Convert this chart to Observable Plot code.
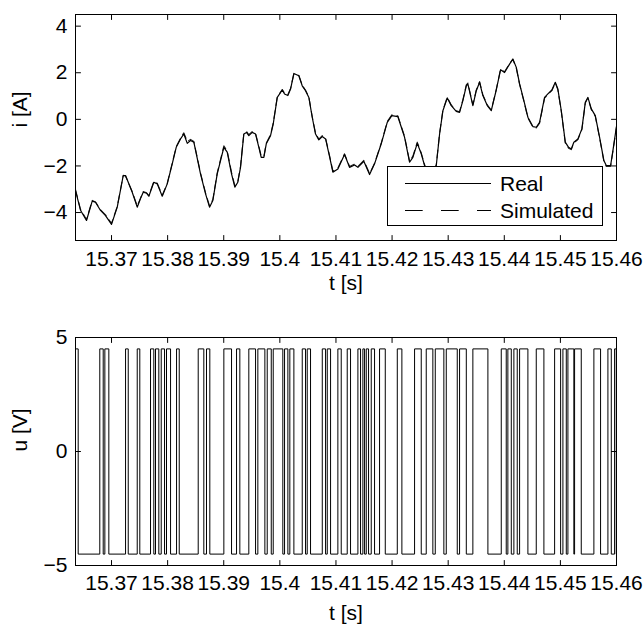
<!DOCTYPE html>
<html><head><meta charset="utf-8">
<script src="https://cdn.jsdelivr.net/npm/d3@7"></script>
<script src="https://cdn.jsdelivr.net/npm/@observablehq/plot@0.6"></script>
<style>
body{margin:0;background:#fff;}
#wrap{position:relative;width:644px;height:624px;font-family:"Liberation Sans",Arial,Helvetica,sans-serif;}
#wrap svg{display:block;}
#legend{position:absolute;left:387px;top:166px;width:214px;height:58px;border:1px solid #000;background:#fff;}
</style></head><body>
<div id="wrap"><div id="top"></div><div id="bottom"></div>
<div id="legend"><svg width="214" height="58" style="font-family:'Liberation Sans',Arial,sans-serif;font-size:21px">
<line x1="17" x2="103" y1="16.5" y2="16.5" stroke="#000" stroke-width="1"/>
<text x="112" y="24">Real</text>
<line x1="17" x2="103" y1="43.5" y2="43.5" stroke="#000" stroke-width="1" stroke-dasharray="17.7,18.3"/>
<text x="112" y="51">Simulated</text>
</svg></div></div>
<script>
// time axis (s) of the current trace
const tI = [15.36358,15.36447,15.36554,15.36656,15.36715,15.36804,15.36893,15.37000,15.37102,15.37209,
15.37250,15.37369,15.37458,15.37517,15.37565,15.37624,15.37665,15.37754,15.37815,15.37904,
15.37993,15.38082,15.38153,15.38230,15.38289,15.38350,15.38408,15.38467,15.38586,15.38676,
15.38747,15.38806,15.38884,15.39002,15.39062,15.39139,15.39198,15.39251,15.39299,15.39358,
15.39406,15.39447,15.39508,15.39567,15.39626,15.39668,15.39715,15.39758,15.39834,15.39882,
15.39954,15.40043,15.40084,15.40143,15.40191,15.40250,15.40339,15.40399,15.40458,15.40517,
15.40577,15.40636,15.40695,15.40756,15.40815,15.40886,15.40945,15.41034,15.41153,15.41242,
15.41332,15.41391,15.41497,15.41599,15.41688,15.41807,15.41914,15.41996,15.42103,15.42223,
15.42312,15.42371,15.42449,15.42520,15.42579,15.42668,15.42788,15.42847,15.42906,15.42984,
15.43055,15.43144,15.43203,15.43262,15.43323,15.43351,15.43399,15.43440,15.43501,15.43560,
15.43618,15.43697,15.43768,15.43857,15.43934,15.44005,15.44094,15.44153,15.44214,15.44273,
15.44349,15.44421,15.44510,15.44570,15.44629,15.44718,15.44777,15.44848,15.44909,15.44955,
15.45016,15.45087,15.45146,15.45194,15.45240,15.45312,15.45383,15.45444,15.45490,15.45551,
15.45622,15.45699,15.45775,15.45818,15.45895,15.45936,15.46000];
const iReal = [-3.06,-3.90,-4.34,-3.51,-3.56,-3.91,-4.13,-4.51,-3.77,-2.41,
-2.41,-3.13,-3.77,-3.40,-3.13,-3.17,-3.30,-2.70,-2.77,-3.30,
-2.77,-1.91,-1.20,-0.84,-0.63,-1.03,-0.91,-0.98,-2.34,-3.20,
-3.77,-3.48,-2.34,-1.20,-1.41,-2.34,-2.91,-2.70,-2.06,-0.63,
-0.56,-0.70,-0.56,-0.63,-1.20,-1.63,-1.63,-1.05,-0.70,-0.20,
0.94,1.26,1.09,1.02,1.30,1.97,1.87,1.44,1.23,0.94,
0.09,-0.63,-0.88,-0.74,-0.84,-1.60,-2.27,-2.13,-1.51,-2.06,
-1.96,-2.06,-1.80,-2.37,-1.91,-1.05,-0.13,0.16,0.12,-0.77,
-1.84,-1.63,-1.03,-1.48,-1.98,-2.60,-1.98,-0.63,0.37,0.92,
0.59,0.34,0.30,0.80,1.44,1.52,1.02,0.59,1.23,1.59,
1.02,0.59,0.37,1.26,2.13,2.01,2.37,2.59,2.23,1.52,
0.80,0.09,-0.31,-0.34,-0.13,0.94,1.09,1.26,1.59,1.30,
0.37,-0.98,-1.20,-1.27,-0.98,-0.84,-0.41,0.73,0.94,0.45,
0.16,-0.77,-1.77,-1.98,-1.98,-1.34,-0.30];
const iSim = [-3.02,-3.86,-4.30,-3.48,-3.55,-3.88,-4.10,-4.46,-3.74,-2.40,
-2.44,-3.10,-3.72,-3.38,-3.10,-3.15,-3.28,-2.66,-2.74,-3.26,
-2.75,-1.88,-1.18,-0.80,-0.58,-0.95,-0.86,-0.95,-2.30,-3.16,
-3.72,-3.44,-2.30,-1.14,-1.36,-2.28,-2.85,-2.66,-2.02,-0.60,
-0.52,-0.66,-0.52,-0.60,-1.16,-1.58,-1.60,-1.02,-0.66,-0.16,
0.96,1.28,1.12,1.06,1.33,1.95,1.88,1.46,1.25,0.96,
0.12,-0.60,-0.85,-0.70,-0.80,-1.56,-2.22,-2.09,-1.48,-2.02,
-1.92,-2.02,-1.76,-2.33,-1.88,-1.02,-0.10,0.20,0.15,-0.73,
-1.80,-1.58,-0.98,-1.44,-1.94,-2.56,-1.95,-0.60,0.40,0.95,
0.62,0.37,0.33,0.84,1.48,1.56,1.05,0.63,1.26,1.62,
1.06,0.62,0.40,1.28,2.15,2.04,2.40,2.57,2.20,1.50,
0.78,0.06,-0.34,-0.37,-0.16,0.91,1.07,1.23,1.57,1.27,
0.34,-1.01,-1.24,-1.30,-1.01,-0.87,-0.44,0.70,0.92,0.42,
0.13,-0.80,-1.80,-2.02,-2.02,-1.37,-0.33];

// voltage: switching instants (s); level toggles at each instant
const uStartTime = 15.36358, uEndTime = 15.46;
const uStartLevel = 4.5, uHigh = 4.5, uLow = -4.5;
const uEdges = [15.36406,
15.36791,15.36852,15.36881,15.36952,15.37250,15.37298,15.37458,15.37504,
15.37695,15.37754,15.37784,15.37843,15.37886,15.37945,15.37980,15.38052,
15.38159,15.38207,15.38545,15.38645,15.38693,15.38752,15.39002,15.39139,
15.39228,15.39287,15.39447,15.39567,15.39608,15.39733,15.39775,15.39847,
15.39882,15.40053,15.40084,15.40143,15.40178,15.40250,15.40399,15.40458,
15.40488,15.40547,15.40756,15.40815,15.40845,15.40904,15.41034,15.41094,
15.41201,15.41260,15.41391,15.41438,15.41480,15.41510,15.41540,15.41581,
15.41629,15.41688,15.41777,15.41879,15.42093,15.42175,15.42401,15.42520,
15.42609,15.42727,15.42770,15.42923,15.42966,15.43162,15.43203,15.43323,
15.43440,15.43708,15.43946,15.44035,15.44064,15.44125,15.44171,15.44231,
15.44273,15.44421,15.44570,15.44706,15.44897,15.45004,15.45045,15.45105,
15.45134,15.45240,15.45253,15.45372,15.45597,15.45716,15.45847,15.45907,
15.45966,15.45996];

const xTicks = [15.37,15.38,15.39,15.40,15.41,15.42,15.43,15.44,15.45,15.46];
const iTicks = [-4,-2,0,2,4];
const uTicks = [-5,0,5];
const xLabel = "t [s]", iLabel = "i [A]", uLabel = "u [V]";

const font = "'Liberation Sans', Arial, Helvetica, sans-serif";
const FS = 21;
const fmtX = d => String(+d.toFixed(2));
const fmtY = d => d3.format("d")(d);

const realData = tI.map((t,k) => ({t, i: iReal[k]}));
const simData = tI.map((t,k) => ({t, i: iSim[k]}));
const uData = [];
let lev = uStartLevel;
uData.push({t: uStartTime, u: lev});
for (const e of uEdges) { lev = lev === uHigh ? uLow : uHigh; uData.push({t: e, u: lev}); }
uData.push({t: uEndTime, u: lev});

const tickShape = {draw(ctx, l){ ctx.moveTo(0,0); ctx.lineTo(0,-l); }};
function inwardTicks(xt, yt){
  const o = {length: 5, anchor: "start", shape: tickShape, stroke: "#000", strokeWidth: 1};
  return [
    Plot.vector(xt, {...o, x: d=>d, frameAnchor: "bottom", rotate: 0}),
    Plot.vector(xt, {...o, x: d=>d, frameAnchor: "top", rotate: 180}),
    Plot.vector(yt, {...o, y: d=>d, frameAnchor: "left", rotate: 90}),
    Plot.vector(yt, {...o, y: d=>d, frameAnchor: "right", rotate: -90})
  ];
}
const domX = [uStartTime, uEndTime];

const topPlot = Plot.plot({
  width: 644, height: 320, marginTop: 14, marginBottom: 80, marginLeft: 75, marginRight: 28,
  style: {fontFamily: font, fontSize: FS + "px", color: "#000", background: "#fff", overflow: "visible"},
  x: {domain: domX},
  y: {domain: [-5.2, 4.5]},
  marks: [
    Plot.line(simData, {x: "t", y: "i", stroke: "#222", strokeWidth: 1.1, strokeDasharray: "8,5", clip: true}),
    Plot.line(realData, {x: "t", y: "i", stroke: "#000", strokeWidth: 1.2, clip: true}),
    Plot.frame({stroke: "#000", strokeWidth: 1}),
    ...inwardTicks(xTicks, iTicks),
    Plot.axisX(xTicks, {tickSize: 0, tickPadding: 11, label: null, tickFormat: fmtX, fontSize: FS}),
    Plot.axisY(iTicks, {tickSize: 0, tickPadding: 8, label: null, tickFormat: fmtY, fontSize: FS}),
    Plot.text([xLabel], {frameAnchor: "bottom", dy: 49, fontSize: FS, text: d=>d}),
    Plot.text([iLabel], {frameAnchor: "left", dx: -55, rotate: -90, fontSize: FS, text: d=>d})
  ]
});
document.getElementById("top").append(topPlot);

const botPlot = Plot.plot({
  width: 644, height: 304, marginTop: 17, marginBottom: 59, marginLeft: 75, marginRight: 28,
  style: {fontFamily: font, fontSize: FS + "px", color: "#000", background: "#fff", overflow: "visible"},
  x: {domain: domX},
  y: {domain: [-5, 5]},
  marks: [
    Plot.line(uData, {x: "t", y: "u", curve: "step-after", stroke: "#000", strokeWidth: 1, clip: true}),
    Plot.frame({stroke: "#000", strokeWidth: 1}),
    ...inwardTicks(xTicks, uTicks),
    Plot.axisX(xTicks, {tickSize: 0, tickPadding: 10, label: null, tickFormat: fmtX, fontSize: FS}),
    Plot.axisY(uTicks, {tickSize: 0, tickPadding: 8, label: null, tickFormat: fmtY, fontSize: FS}),
    Plot.text([xLabel], {frameAnchor: "bottom", dy: 54, fontSize: FS, text: d=>d}),
    Plot.text([uLabel], {frameAnchor: "left", dx: -55, rotate: -90, fontSize: FS, text: d=>d})
  ]
});
document.getElementById("bottom").append(botPlot);
</script>
</body></html>
